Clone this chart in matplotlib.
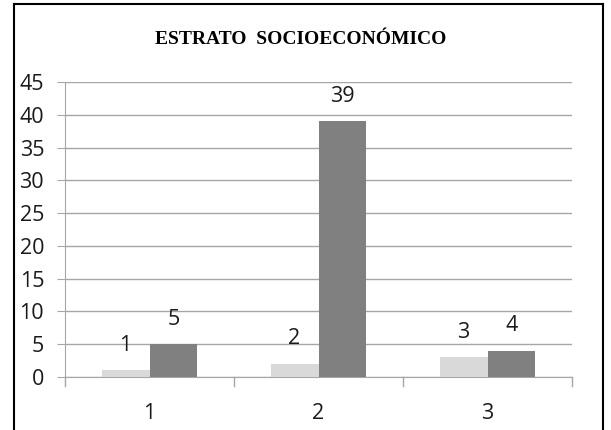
import matplotlib.pyplot as plt
import numpy as np
from matplotlib.lines import Line2D

categories = ['1', '2', '3']
serie_a = [1, 2, 3]
serie_b = [5, 39, 4]
y_ticks = [0, 5, 10, 15, 20, 25, 30, 35, 40, 45]

plt.rcParams['font.family'] = ['Open Sans', 'DejaVu Sans']

fig = plt.figure(figsize=(6.11, 4.30), dpi=100)
# plot area: x 65..572 px, y 82..377 px
ax = fig.add_axes([65 / 611, 53 / 430, 507 / 611, 295 / 430])

x = np.arange(len(categories))
w = 0.284
bars_a = ax.bar(x - w / 2, serie_a, w, color='#d9d9d9', zorder=3)
bars_b = ax.bar(x + w / 2, serie_b, w, color='#808080', zorder=3)

for bars, vals in ((bars_a, serie_a), (bars_b, serie_b)):
    for b, v in zip(bars, vals):
        ax.annotate(str(v), (b.get_x() + b.get_width() / 2, v),
                    xytext=(0, 18), textcoords='offset points',
                    ha='center', va='center', fontsize=15.5, color='#1a1a1a')

ax.set_xlim(-0.5, len(categories) - 0.5)
ax.set_ylim(0, 45)
ax.set_yticks(y_ticks)
ax.set_yticklabels([str(t) for t in y_ticks], fontsize=15.5, color='#1a1a1a')
ax.yaxis.grid(True, color='#a6a6a6', linewidth=1, zorder=0)
ax.set_axisbelow(True)

# category labels centered, ticks on category boundaries
ax.set_xticks(x)
ax.set_xticklabels(categories, fontsize=15.5, color='#1a1a1a')
ax.tick_params(axis='x', length=0, pad=19)
for b in np.arange(-0.5, len(categories), 1.0):
    ax.plot([b, b], [0, -9 / 295], transform=ax.get_xaxis_transform(),
            color='#a6a6a6', linewidth=1, clip_on=False)
ax.tick_params(axis='y', length=6, color='#a6a6a6', pad=9)

for s in ('top', 'right'):
    ax.spines[s].set_visible(False)
for s in ('left', 'bottom'):
    ax.spines[s].set_color('#a6a6a6')

fig.text(301 / 611, 1 - 40 / 430, 'ESTRATO  SOCIOECONÓMICO', ha='center', va='center',
         fontsize=14, fontweight='bold', family='Liberation Serif')

# outer frame, open at the bottom
fx0, fx1, fy1 = 14 / 611, 603 / 611, 1 - 4 / 430
fig.add_artist(Line2D([fx0, fx0], [0, fy1], color='black', linewidth=1.5))
fig.add_artist(Line2D([fx1, fx1], [0, fy1], color='black', linewidth=1.5))
fig.add_artist(Line2D([fx0, fx1], [fy1, fy1], color='black', linewidth=1.5))

fig.savefig('out.png', dpi=100)
